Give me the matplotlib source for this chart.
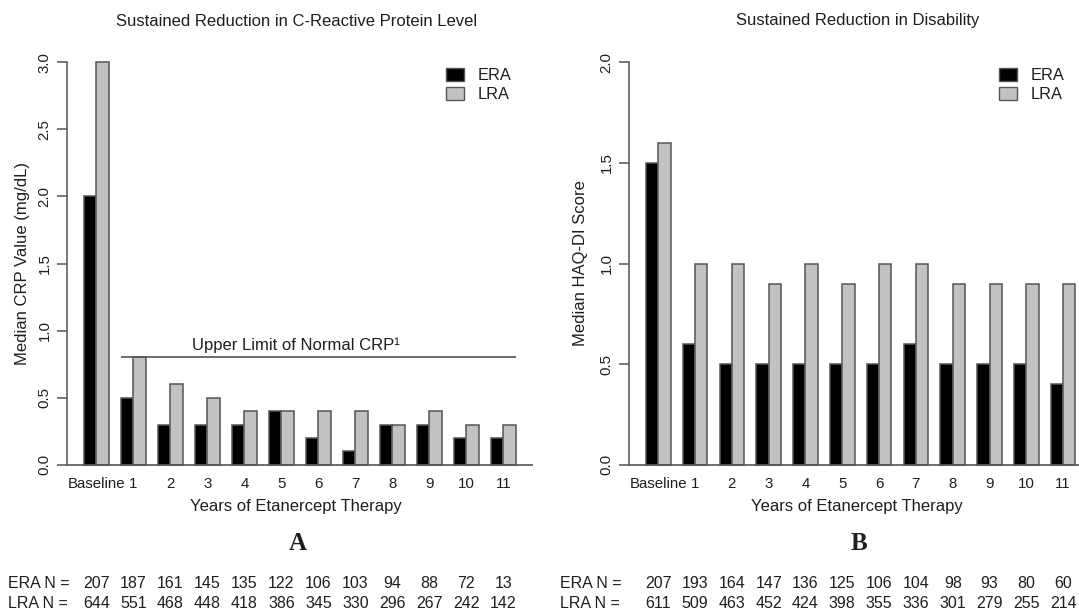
import numpy as np
import matplotlib
matplotlib.use("Agg")
import matplotlib.pyplot as plt
from matplotlib.patches import Patch

plt.rcParams['font.family'] = ['Liberation Sans', 'DejaVu Sans']

# ---- data ----
years = ['Baseline', '1', '2', '3', '4', '5', '6', '7', '8', '9', '10', '11']

crp_era = [2.0, 0.5, 0.3, 0.3, 0.3, 0.4, 0.2, 0.1, 0.3, 0.3, 0.2, 0.2]
crp_lra = [3.0, 0.8, 0.6, 0.5, 0.4, 0.4, 0.4, 0.4, 0.3, 0.4, 0.3, 0.3]
crp_upper_normal = 0.8

haq_era = [1.5, 0.6, 0.5, 0.5, 0.5, 0.5, 0.5, 0.6, 0.5, 0.5, 0.5, 0.4]
haq_lra = [1.6, 1.0, 1.0, 0.9, 1.0, 0.9, 1.0, 1.0, 0.9, 0.9, 0.9, 0.9]

crp_n_era = [207, 187, 161, 145, 135, 122, 106, 103, 94, 88, 72, 13]
crp_n_lra = [644, 551, 468, 448, 418, 386, 345, 330, 296, 267, 242, 142]
haq_n_era = [207, 193, 164, 147, 136, 125, 106, 104, 98, 93, 80, 60]
haq_n_lra = [611, 509, 463, 452, 424, 398, 355, 336, 301, 279, 255, 214]

ERA_COL = '#000000'
LRA_COL = '#c2c2c2'
EDGE = '#555555'
TXT = '#1e1e1e'

W, H = 1079, 609
fig = plt.figure(figsize=(W / 100, H / 100), dpi=100)


def fx(px):
    return px / W


def fy(py):
    return 1 - py / H


# R barplot style: bars beside, space=c(0,1) -> group i occupies [3i+1, 3i+3]
idx = np.arange(len(years))
era_x = 3 * idx + 1
lra_x = 3 * idx + 2
centers = 3 * idx + 2


def panel(left_px, right_px, era, lra, ymax, yticks, ylabel, ylabel_x,
          title, letter, n_era, n_lra, table_x_px):
    ax = fig.add_axes([fx(left_px), fy(481), fx(right_px - left_px), 435 / H])
    ax.bar(era_x, era, width=1, align='edge', color=ERA_COL,
           edgecolor=EDGE, linewidth=1.1)
    ax.bar(lra_x, lra, width=1, align='edge', color=LRA_COL,
           edgecolor=EDGE, linewidth=1.1)
    ax.set_xlim(-0.4, 37.4)
    ax.set_ylim(-0.04 * ymax, 1.04 * ymax)
    ax.axhline(0, color=EDGE, linewidth=1.2)

    for s in ['top', 'right', 'bottom']:
        ax.spines[s].set_visible(False)
    ax.spines['left'].set_bounds(0, ymax)
    ax.spines['left'].set_color(EDGE)
    ax.spines['left'].set_linewidth(1.1)
    ax.set_yticks(yticks)
    ax.set_yticklabels([f'{t:.1f}' for t in yticks], rotation=90,
                       va='center', fontsize=10.8, color=TXT)
    ax.tick_params(axis='y', length=7, width=1.1, color=EDGE, pad=4)

    ax.set_xticks(centers)
    ax.set_xticklabels(years, fontsize=10.8, color=TXT)
    ax.tick_params(axis='x', length=0, pad=-3)

    ax.set_ylabel(ylabel, fontsize=12, color=TXT)
    ax.yaxis.set_label_coords(ylabel_x, 0.5)

    mid = (left_px + right_px) / 2
    fig.text(fx(mid - 3), fy(21), title, ha='center', va='center',
             fontsize=12, color=TXT)
    fig.text(fx(mid - 4), fy(506), 'Years of Etanercept Therapy', ha='center',
             va='center', fontsize=12, color=TXT)
    fig.text(fx(mid - 2), fy(543), letter, ha='center', va='center',
             fontsize=18, fontweight='bold', family='Liberation Serif',
             color=TXT)

    # N table under the panel, numbers aligned with group centres
    fig.text(fx(table_x_px), fy(584), 'ERA N =', ha='left', va='center',
             fontsize=11.5, color=TXT)
    fig.text(fx(table_x_px), fy(603), 'LRA N =', ha='left', va='center',
             fontsize=11.5, color=TXT)
    for c, a, b in zip(centers, n_era, n_lra):
        ax.annotate(str(a), (c, 0), xycoords=('data', 'figure fraction'),
                    xytext=(0, 1 - 584 / H), textcoords=('offset points', 'figure fraction'),
                    ha='center', va='center', fontsize=11.5, color=TXT,
                    annotation_clip=False)
        ax.annotate(str(b), (c, 0), xycoords=('data', 'figure fraction'),
                    xytext=(0, 1 - 603 / H), textcoords=('offset points', 'figure fraction'),
                    ha='center', va='center', fontsize=11.5, color=TXT,
                    annotation_clip=False)

    handles = [Patch(facecolor=ERA_COL, edgecolor=EDGE, label='ERA'),
               Patch(facecolor=LRA_COL, edgecolor=EDGE, label='LRA')]
    return ax, handles


ax1, h1 = panel(66.8, 532.9, crp_era, crp_lra, 3.0,
                [0.0, 0.5, 1.0, 1.5, 2.0, 2.5, 3.0],
                'Median CRP Value (mg/dL)', -0.078,
                'Sustained Reduction in C-Reactive Protein Level',
                'A', crp_n_era, crp_n_lra, 8)
ax1.legend(handles=h1, loc='upper left', bbox_to_anchor=(fx(446), fy(68)),
           bbox_transform=fig.transFigure, frameon=False, fontsize=11.8,
           handlelength=1.1, handleheight=0.85, handletextpad=0.85,
           labelspacing=0.22, borderpad=0, borderaxespad=0, labelcolor=TXT)

# upper limit of normal CRP reference line
ax1.hlines(crp_upper_normal, 4, 36, color=EDGE, linewidth=1.2)
ax1.text(18.2, crp_upper_normal + 0.03, 'Upper Limit of Normal CRP\u00b9',
         ha='center', va='bottom', fontsize=12, color=TXT)

ax2, h2 = panel(628.8, 1092.6, haq_era, haq_lra, 2.0,
                [0.0, 0.5, 1.0, 1.5, 2.0],
                'Median HAQ-DI Score', -0.088,
                'Sustained Reduction in Disability',
                'B', haq_n_era, haq_n_lra, 560)
ax2.legend(handles=h2, loc='upper left', bbox_to_anchor=(fx(999), fy(68)),
           bbox_transform=fig.transFigure, frameon=False, fontsize=11.8,
           handlelength=1.1, handleheight=0.85, handletextpad=0.85,
           labelspacing=0.22, borderpad=0, borderaxespad=0, labelcolor=TXT)

fig.savefig('out.png', dpi=100)
